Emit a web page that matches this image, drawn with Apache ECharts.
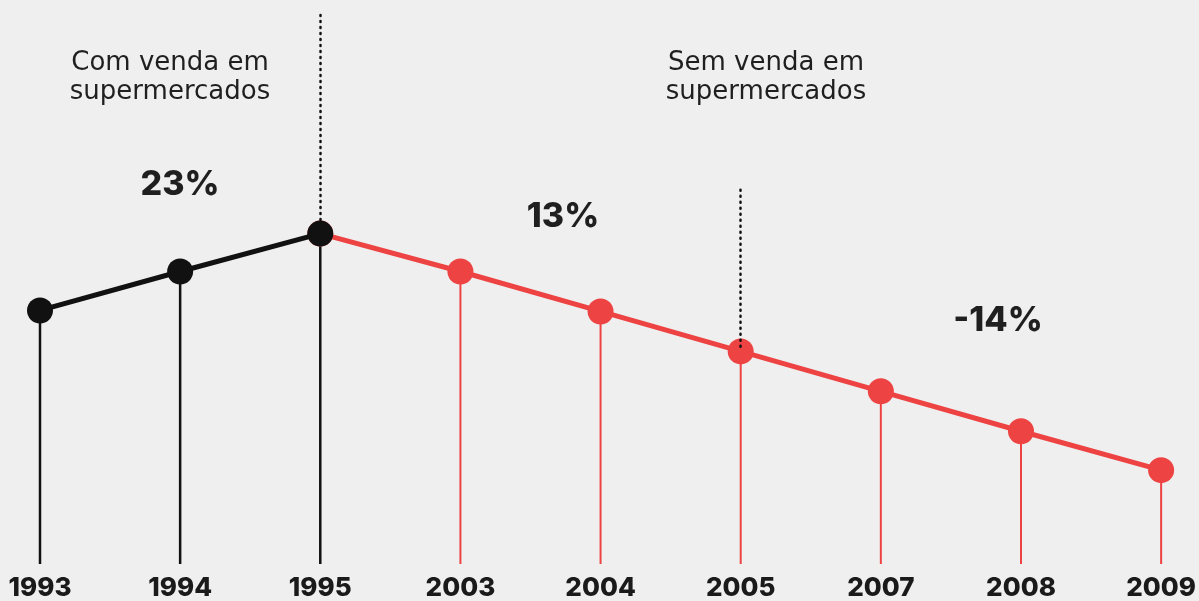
<!DOCTYPE html>
<html>
<head>
<meta charset="utf-8">
<script src="https://cdn.jsdelivr.net/npm/echarts@6/dist/echarts.min.js"></script>
<style>
html,body{margin:0;padding:0;background:#efefef;}
#c{width:1199px;height:601px;}
</style>
</head>
<body>
<div id="c"></div>
<script>
const categories = ['1993','1994','1995','2003','2004','2005','2007','2008','2009'];
const values = [254, 293, 331, 293, 253, 213, 173, 133, 94];
const blackCount = 3; // first points sold in supermarkets
const annotations = [
  {text: 'Com venda em\nsupermercados', x: 170, y: 78, bold: false},
  {text: 'Sem venda em\nsupermercados', x: 766, y: 78, bold: false},
  {text: '23%', x: 180, y: 185, bold: true},
  {text: '13%', x: 563, y: 217, bold: true},
  {text: '-14%', x: 998, y: 321, bold: true}
];

const RED = '#ee4343';
const BLACK = '#111111';
const FONT = 'Inter';

const blackData = values.map((v, i) => i < blackCount ? v : null);
const redData = values.map((v, i) => i >= blackCount - 1 ? v : null);

const chart = echarts.init(document.getElementById('c'));
chart.setOption({
  backgroundColor: '#efefef',
  animation: false,
  grid: {left: 40, right: 35, top: 0, bottom: 36, containLabel: false},
  xAxis: {
    type: 'category', data: categories, boundaryGap: false,
    axisLine: {show: false}, axisTick: {show: false}, splitLine: {show: false},
    axisLabel: {margin: 11, fontFamily: FONT, fontWeight: 800, fontSize: 26, color: '#1a1a1a'}
  },
  yAxis: {type: 'value', min: 0, max: 565, show: false},
  graphic: annotations.map(a => ({
    type: 'text', x: a.x, y: a.y, z: 50,
    style: {
      text: a.text, fill: '#1f1f1f', align: 'center', verticalAlign: 'middle',
      font: a.bold ? '800 34px Inter' : '400 26px "DejaVu Sans"',
      lineHeight: 29
    }
  })),
  series: [
    {
      type: 'custom', z: 1,
      data: values.map((v, i) => [i, v]),
      renderItem: function (params, api) {
        const i = api.value(0);
        const top = api.coord([i, api.value(1)]);
        const bot = api.coord([i, 0]);
        return {
          type: 'line',
          shape: {x1: top[0], y1: top[1], x2: bot[0], y2: bot[1]},
          style: {stroke: i < blackCount ? BLACK : RED, lineWidth: i < blackCount ? 2.5 : 2}
        };
      }
    },
    {
      type: 'line', z: 3, data: redData,
      lineStyle: {color: RED, width: 5},
      itemStyle: {color: RED},
      symbol: 'circle', symbolSize: 26,
      markLine: {
        silent: true, symbol: 'none', label: {show: false},
        lineStyle: {color: BLACK, width: 2.5, type: [1, 5], cap: 'round'},
        data: [[{coord: ['2005', 375]}, {coord: ['2005', 213]}]]
      }
    },
    {
      type: 'line', z: 4, data: blackData,
      lineStyle: {color: BLACK, width: 5},
      itemStyle: {color: BLACK},
      symbol: 'circle', symbolSize: 26,
      markLine: {
        silent: true, symbol: 'none', label: {show: false},
        lineStyle: {color: BLACK, width: 2.5, type: [1, 5], cap: 'round'},
        data: [[{coord: ['1995', 550]}, {coord: ['1995', 331]}]]
      }
    }
  ]
});
</script>
</body>
</html>
